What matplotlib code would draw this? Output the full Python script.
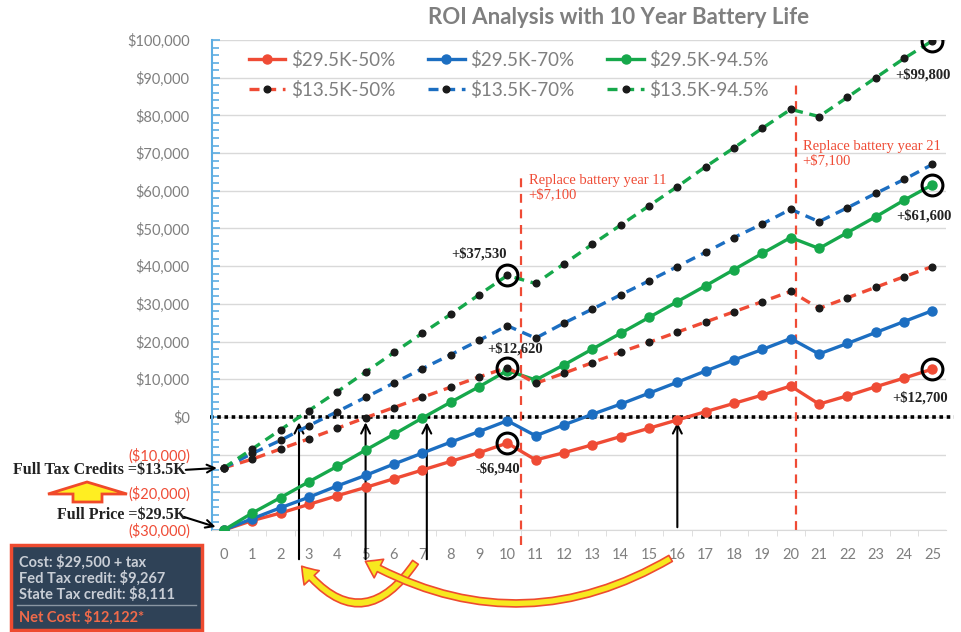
import matplotlib.pyplot as plt
import matplotlib.patches as mpatches
from matplotlib.patches import FancyArrowPatch
from matplotlib.ticker import MultipleLocator, FuncFormatter
import numpy as np

years = list(range(26))

full_50 = [-30000, -27500, -25500, -23200, -20900, -18700, -16400, -14100, -11800, -9500, -6940,
           -11400, -9500, -7400, -5200, -3000, -800, 1400, 3600, 5800, 8200,
           3400, 5600, 8000, 10300, 12700]
full_70 = [-30000, -27000, -24100, -21300, -18300, -15500, -12500, -9600, -6700, -3900, -1000,
           -5000, -2100, 700, 3400, 6300, 9200, 12200, 15100, 17900, 20800,
           16700, 19500, 22400, 25300, 28200]
full_945 = [-30000, -25500, -21400, -17200, -13100, -8800, -4600, -300, 3900, 8000, 12300,
            9800, 13800, 18000, 22200, 26400, 30600, 34800, 39100, 43400, 47600,
            44700, 48900, 53100, 57500, 61600]
credit_50 = [-13500, -11200, -8500, -5800, -3000, -200, 2500, 5200, 7900, 10600, 13100,
             8900, 11600, 14400, 17200, 19800, 22500, 25200, 27900, 30600, 33300,
             28800, 31600, 34400, 37200, 39900]
credit_70 = [-13500, -9700, -6200, -2300, 1400, 5200, 9000, 12800, 16500, 20300, 24200,
             20900, 24900, 28600, 32400, 36100, 39900, 43700, 47600, 51200, 55100,
             51800, 55500, 59300, 63000, 67000]
credit_945 = [-13500, -8500, -3400, 1700, 6700, 11900, 17100, 22200, 27200, 32400, 37530,
              35400, 40600, 45800, 50900, 56000, 61100, 66400, 71400, 76600, 81600,
              79700, 84800, 90000, 95100, 99800]

RED = '#EF4B35'
BLUE = '#1C6EC1'
GREEN = '#16A84B'
GRAY = '#7F7F7F'

plt.rcParams['font.family'] = ['Lato', 'DejaVu Sans']

fig = plt.figure(figsize=(9.62, 6.32), dpi=100)
W, H = 962, 632


def px(x, y):
    return (x / W, 1 - y / H)


ax = fig.add_axes([212 / W, 1 - 530 / H, 734 / W, 490 / H])
ax.set_xlim(-0.42, 25.48)
ax.set_ylim(-30000, 100000)

# grid
ax.yaxis.set_major_locator(MultipleLocator(10000))
ax.yaxis.set_minor_locator(MultipleLocator(2000))
ax.grid(axis='y', color='#D9D9D9', lw=1)
ax.set_axisbelow(True)

for s in ['top', 'right']:
    ax.spines[s].set_visible(False)
ax.spines['left'].set_color('#5DADE2')
ax.spines['left'].set_linewidth(1.5)
ax.spines['bottom'].set_color('#D9D9D9')

ax.tick_params(axis='y', which='both', direction='in', color='#5DADE2', width=1.2)
ax.tick_params(axis='y', which='major', length=6, pad=16, labelsize=10.5)
ax.tick_params(axis='y', which='minor', length=5)


def money(v, pos):
    if v < 0:
        return '(${:,.0f})'.format(-v)
    return '${:,.0f}'.format(v)


ax.yaxis.set_major_formatter(FuncFormatter(money))

ax.set_xticks(years)
ax.set_xticks(np.arange(0.5, 25.5, 1), minor=True)
ax.tick_params(axis='x', which='major', length=0, pad=13, labelsize=10.5, labelcolor=GRAY)
ax.tick_params(axis='x', which='minor', length=4, color='#D9D9D9')

# zero line
ax.plot([-0.5, 25.75], [0, 0], color='black', ls=(0, (1, 1)), lw=2.6, clip_on=False, zorder=2)

# battery replacement lines
ax.plot([10.5, 10.5], [-34000, 64000], color=RED, ls=(0, (4, 3)), lw=1.6, clip_on=False, zorder=2)
ax.plot([20.2, 20.2], [-30000, 88000], color=RED, ls=(0, (4, 3)), lw=1.6, clip_on=False, zorder=2)

# series
solid_kw = dict(lw=2.4, marker='o', ms=6.5, zorder=4)
dash_kw = dict(lw=2.4, ls=(0, (3.0, 2.0)), marker='o', ms=4.8, mfc='#1a1a1a', mec='#1a1a1a', zorder=5)
h1, = ax.plot(years, full_50, color=RED, label='$29.5K-50%', **solid_kw)
h2, = ax.plot(years, full_70, color=BLUE, label='$29.5K-70%', **solid_kw)
h3, = ax.plot(years, full_945, color=GREEN, label='$29.5K-94.5%', **solid_kw)
h4, = ax.plot(years, credit_50, color=RED, label='$13.5K-50%', **dash_kw)
h5, = ax.plot(years, credit_70, color=BLUE, label='$13.5K-70%', **dash_kw)
h6, = ax.plot(years, credit_945, color=GREEN, label='$13.5K-94.5%', **dash_kw)

order = [h1, h4, h2, h5, h3, h6]
leg = ax.legend(order, [h.get_label() for h in order],
                ncol=3, loc='upper left', bbox_to_anchor=(0.027, 1.012), frameon=False,
                fontsize=13.5, handlelength=1.95, columnspacing=1.75, labelspacing=0.62,
                handletextpad=0.3)
for t in leg.get_texts():
    t.set_color(GRAY)

# circled points and value labels
circles = [(10, credit_945), (10, credit_50), (10, full_50),
           (25, credit_945), (25, full_945), (25, full_50)]
for i, series in circles:
    ax.plot(years[i], series[i], marker='o', ms=15, mfc='none', mec='black', mew=2.2, zorder=6)

serif = ['Liberation Serif', 'DejaVu Serif']
labels = [(10, credit_945, '+$37,530', (-28, 22)),
          (10, credit_50, '+$12,620', (8, 19)),
          (10, full_50, '-$6,940', (-9, -26)),
          (25, credit_945, '+$99,800', (-9, -34)),
          (25, full_945, '+$61,600', (-8, -31)),
          (25, full_50, '+$12,700', (-12, -29))]
for i, series, txt, off in labels:
    ax.annotate(txt, (years[i], series[i]), xytext=off, textcoords='offset pixels',
                ha='center', va='center', fontsize=10.5, fontweight='bold', family=serif,
                color='#222222', zorder=7)

ax.text(10.75, 64500, 'Replace battery year 11\n+$7,100', color=RED, fontsize=10.5,
        family=serif, va='top', ha='left', linespacing=1.15)
ax.text(20.42, 73500, 'Replace battery year 21\n+$7,100', color=RED, fontsize=10.5,
        family=serif, va='top', ha='left', linespacing=1.15)

# break-even arrows
arrow_kw = dict(arrowstyle='->', color='black', lw=1.5, mutation_scale=16)
for x0, y0 in [(2.65, -38500), (5.0, -38500), (7.16, -38500), (16.0, -30000)]:
    ax.annotate('', xy=(x0, -700), xytext=(x0, y0), arrowprops=arrow_kw, annotation_clip=False)

# y tick label colours
fig.canvas.draw()
for lab in ax.get_yticklabels():
    lab.set_color(RED if '(' in lab.get_text() else GRAY)

# title
fig.text(*px(619, 17), 'ROI Analysis with 10 Year Battery Life', ha='center', va='center',
         fontsize=16, fontweight='bold', color=GRAY)

# left side labels
fig.text(*px(13, 470), 'Full Tax Credits =$13.5K', ha='left', va='center', fontsize=11.5,
         fontweight='bold', family=serif, color='#222222')
fig.text(*px(57, 515), 'Full Price =$29.5K', ha='left', va='center', fontsize=11.5,
         fontweight='bold', family=serif, color='#222222')
ax.annotate('', xy=(-0.15, -13500), xytext=px(183, 470), textcoords='figure fraction',
            arrowprops=dict(arrowstyle='->', color='black', lw=1.5, mutation_scale=14),
            annotation_clip=False)
ax.annotate('', xy=(-0.2, -29400), xytext=px(181, 516), textcoords='figure fraction',
            arrowprops=dict(arrowstyle='->', color='black', lw=1.5, mutation_scale=14),
            annotation_clip=False)

up = mpatches.Polygon([px(48, 494), px(87, 482), px(127, 494), px(102, 494), px(102, 502),
                       px(73, 502), px(73, 494)], closed=True, transform=fig.transFigure,
                      facecolor='#FFEE22', edgecolor='#F04A2A', lw=2)
fig.patches.append(up)

# info box
box = mpatches.Rectangle(px(11, 630), 191 / W, 85 / H, transform=fig.transFigure,
                         facecolor='#2F4257', edgecolor='#EE4B30', lw=2.5)
fig.patches.append(box)
info = ['Cost: $29,500 + tax', 'Fed Tax credit: $9,267', 'State Tax credit: $8,111']
for k, line in enumerate(info):
    fig.text(*px(19, 562 + k * 16), line, ha='left', va='center', fontsize=10.5,
             fontweight='bold', color='#C9CED6')
fig.lines.append(plt.Line2D([17 / W, 196 / W], [1 - 605 / H, 1 - 605 / H],
                            transform=fig.transFigure, color='#8A96A3', lw=1))
fig.text(*px(19, 617), 'Net Cost: $12,122*', ha='left', va='center', fontsize=10.5,
         fontweight='bold', color='#F06A4A')

# curved yellow arrows
for a, b, rad in [((417, 560), (300, 564), -0.7), ((673, 557), (363, 560), -0.29)]:
    arr = FancyArrowPatch(px(*a), px(*b), transform=fig.transFigure,
                          connectionstyle='arc3,rad=%s' % rad,
                          arrowstyle='simple,head_length=1.1,head_width=1.5,tail_width=0.5',
                          mutation_scale=10, facecolor='#F7E81E', edgecolor='#EE4B30', lw=1.2)
    fig.patches.append(arr)

fig.savefig('out.png', dpi=100)
